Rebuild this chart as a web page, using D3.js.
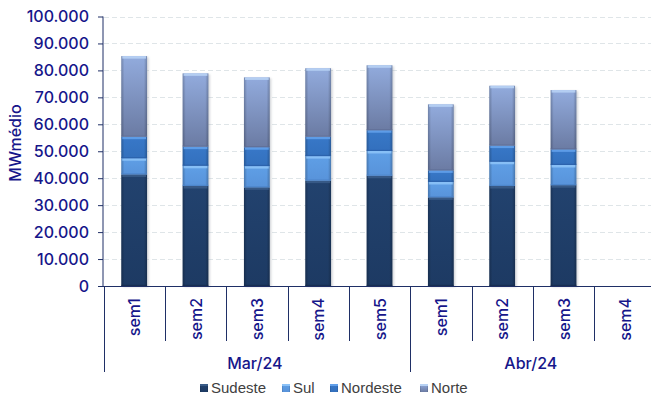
<!DOCTYPE html>
<html>
<head>
<meta charset="utf-8">
<script src="https://cdn.jsdelivr.net/npm/d3@7"></script>
<style>
  html, body { margin: 0; padding: 0; background: #fff; }
  svg { display: block; }
</style>
</head>
<body>
<svg id="chart" width="651" height="401"></svg>
<script>
// Weekly average load by subsystem (MWmédio)
const months = ["Mar/24", "Abr/24"];
const weeks = [
  ["sem1", "sem2", "sem3", "sem4", "sem5"],
  ["sem1", "sem2", "sem3", "sem4"]
];
const seriesNames = ["Sudeste", "Sul", "Nordeste", "Norte"];
const sudeste  = [41400, 37100, 36600, 39100, 40900, 32900, 37100, 37400, null];
const sul      = [ 6000,  7500,  7900,  9100,  9200,  5700,  9000,  7500, null];
const nordeste = [ 8000,  7100,  7000,  7200,  7700,  4300,  6000,  5800, null];
const norte    = [29900, 27200, 25900, 25400, 24100, 24500, 22200, 22000, null];
const yTicks = [0, 10000, 20000, 30000, 40000, 50000, 60000, 70000, 80000, 90000, 100000];

const seriesValues = [sudeste, sul, nordeste, norte];
const navy = "#16168a";
const lineCol = "#1f2f66";

// flat category list: one slot per week, grouped by month
const cats = [];
weeks.forEach((ws, m) => ws.forEach(w => cats.push({ key: months[m] + "|" + w, week: w, month: months[m] })));
const rows = cats.map((c, i) => {
  const r = { key: c.key };
  seriesNames.forEach((s, k) => r[s] = seriesValues[k][i]);
  r.empty = seriesValues.every(v => v[i] == null);
  return r;
});

const svg = d3.select("#chart");
const x = d3.scaleBand().domain(cats.map(c => c.key)).range([103.5, 655.5]).paddingInner(0).paddingOuter(0);
const y = d3.scaleLinear().domain([0, 100000]).range([286, 16.5]);
const barW = x.bandwidth() * 0.42;

const defs = svg.append("defs");
// vertical body gradients per series, plus a shared edge shading and top highlights
const pal = {
  Sudeste:  { top: "#22426e", bot: "#1d3a63", hi: "#3a5c88", edge: "#152a4a" },
  Sul:      { top: "#5f9fe6", bot: "#5893da", hi: "#8cc2f7", edge: "#4a82c6" },
  Nordeste: { top: "#3878c8", bot: "#3370bd", hi: "#62a0ea", edge: "#2a5ea6" },
  Norte:    { top: "#92abdd", bot: "#6b7ba3", hi: "#b8d2f4", edge: "#5f6e96" }
};
seriesNames.forEach(s => {
  const g = defs.append("linearGradient").attr("id", "v-" + s).attr("x1", 0).attr("x2", 0).attr("y1", 0).attr("y2", 1);
  g.append("stop").attr("offset", "0%").attr("stop-color", pal[s].top);
  g.append("stop").attr("offset", "100%").attr("stop-color", pal[s].bot);
});
const eg = defs.append("linearGradient").attr("id", "edges").attr("x1", 0).attr("x2", 1).attr("y1", 0).attr("y2", 0);
eg.append("stop").attr("offset", "0%").attr("stop-color", "#000").attr("stop-opacity", 0.22);
eg.append("stop").attr("offset", "12%").attr("stop-color", "#000").attr("stop-opacity", 0);
eg.append("stop").attr("offset", "88%").attr("stop-color", "#000").attr("stop-opacity", 0);
eg.append("stop").attr("offset", "100%").attr("stop-color", "#000").attr("stop-opacity", 0.22);
const shadowF = defs.append("filter").attr("id", "soft").attr("x", "-20%").attr("y", "-5%").attr("width", "140%").attr("height", "110%");
shadowF.append("feGaussianBlur").attr("stdDeviation", 1.2);

// gridlines
svg.append("g").selectAll("line").data(yTicks.filter(t => t > 0)).join("line")
  .attr("x1", 104).attr("x2", 651)
  .attr("y1", d => Math.round(y(d)) + 0.5).attr("y2", d => Math.round(y(d)) + 0.5)
  .attr("stroke", "#dfe5e8").attr("stroke-width", 1).attr("stroke-dasharray", "5,3");

// stacked bars
const stack = d3.stack().keys(seriesNames).value((d, k) => d[k] || 0);
const layers = stack(rows);
const barsG = svg.append("g");
const totalOf = d => d3.sum(seriesNames, s => d[s] || 0);

// soft shadow behind each full bar
barsG.selectAll("rect.shadow").data(rows.filter(r => !r.empty)).join("rect")
  .attr("class", "shadow")
  .attr("x", d => x(d.key) + (x.bandwidth() - barW) / 2 + 1.5)
  .attr("y", d => y(totalOf(d)) + 1)
  .attr("width", barW)
  .attr("height", d => y(0) - y(totalOf(d)))
  .attr("fill", "#9aa0a8").attr("opacity", 0.45).attr("filter", "url(#soft)");

layers.forEach(layer => {
  const s = layer.key;
  const segs = layer.map((d, i) => ({ y0: d[0], y1: d[1], key: rows[i].key, empty: rows[i].empty })).filter(d => !d.empty && d.y1 > d.y0);
  const g = barsG.append("g");
  const bx = d => x(d.key) + (x.bandwidth() - barW) / 2;
  g.selectAll("rect.body").data(segs).join("rect")
    .attr("x", bx).attr("y", d => y(d.y1)).attr("width", barW)
    .attr("height", d => y(d.y0) - y(d.y1))
    .attr("fill", "url(#v-" + s + ")");
  g.selectAll("rect.edge").data(segs).join("rect")
    .attr("x", bx).attr("y", d => y(d.y1)).attr("width", barW)
    .attr("height", d => y(d.y0) - y(d.y1))
    .attr("fill", "url(#edges)");
  // bevel highlight along the top of each segment
  g.selectAll("rect.hi").data(segs).join("rect")
    .attr("x", d => bx(d) + 1).attr("y", d => y(d.y1)).attr("width", barW - 2)
    .attr("height", 2.5)
    .attr("fill", pal[s].hi).attr("opacity", 0.9);
  // thin dark line at the bottom of each segment
  g.selectAll("rect.lo").data(segs).join("rect")
    .attr("x", bx).attr("y", d => y(d.y0) - 1.2).attr("width", barW)
    .attr("height", 1.2)
    .attr("fill", pal[s].edge).attr("opacity", 0.7);
});

// y axis
const yAxis = d3.axisLeft(y).tickValues(yTicks).tickSize(5).tickPadding(9)
  .tickFormat(d => d === 0 ? "0" : d3.format(",")(d).replace(/,/g, "."));
const ya = svg.append("g").attr("transform", "translate(103,0)").call(yAxis);
ya.select(".domain").attr("stroke", lineCol).attr("d", "M0,16.5V286");
ya.selectAll(".tick line").attr("stroke", lineCol);
ya.selectAll(".tick text").attr("fill", navy).attr("font-family", "Inter, sans-serif")
  .attr("font-size", 16).attr("font-weight", 500);

// y axis title
svg.append("text").attr("transform", "translate(21,143) rotate(-90)")
  .attr("text-anchor", "middle").attr("fill", navy)
  .attr("font-family", "Inter, sans-serif").attr("font-size", 16).attr("font-weight", 500)
  .text("MWmédio");

// x axis: baseline, week separators, month separators
const xa = svg.append("g");
xa.append("line").attr("x1", 103).attr("x2", 651).attr("y1", 286.5).attr("y2", 286.5).attr("stroke", lineCol);
const monthStarts = [];
let idx = 0;
weeks.forEach(ws => { monthStarts.push(idx); idx += ws.length; });
const bounds = d3.range(cats.length + 1).map(i => i < cats.length ? x(cats[i].key) : x.range()[1]);
bounds.forEach((bxv, i) => {
  const isMonth = monthStarts.includes(i) || i === cats.length;
  xa.append("line").attr("x1", Math.round(bxv) + 0.5).attr("x2", Math.round(bxv) + 0.5)
    .attr("y1", 286).attr("y2", isMonth ? 372 : 341)
    .attr("stroke", lineCol).attr("stroke-width", 1);
});
// week labels (rotated)
xa.selectAll("text.week").data(cats).join("text")
  .attr("class", "week")
  .attr("transform", d => `translate(${x(d.key) + x.bandwidth() / 2 + 6},298) rotate(-90)`)
  .attr("text-anchor", "end").attr("fill", navy)
  .attr("font-family", "Inter, sans-serif").attr("font-size", 16).attr("font-weight", 500)
  .text(d => d.week);
// month labels
months.forEach((m, k) => {
  const first = cats[monthStarts[k]].key;
  const lastIdx = monthStarts[k] + weeks[k].length;
  const x0 = x(first), x1 = lastIdx < cats.length ? x(cats[lastIdx].key) : x.range()[1];
  xa.append("text").attr("x", (x0 + x1) / 2 - 2).attr("y", 369)
    .attr("text-anchor", "middle").attr("fill", navy)
    .attr("font-family", "Inter, sans-serif").attr("font-size", 16).attr("font-weight", 500)
    .text(m);
});

// legend
const legX = [200, 282, 330, 420];
const lg = svg.append("g");
seriesNames.forEach((s, k) => {
  lg.append("rect").attr("x", legX[k]).attr("y", 384).attr("width", 8).attr("height", 8)
    .attr("fill", "url(#v-" + s + ")");
  lg.append("rect").attr("x", legX[k]).attr("y", 384).attr("width", 8).attr("height", 8)
    .attr("fill", "url(#edges)");
  lg.append("rect").attr("x", legX[k]).attr("y", 384).attr("width", 8).attr("height", 2)
    .attr("fill", pal[s].hi);
  lg.append("text").attr("x", legX[k] + 11).attr("y", 392.5)
    .attr("fill", "#404040").attr("font-family", "'Liberation Sans', Arial, sans-serif")
    .attr("font-size", 15).text(s);
});
</script>
</body>
</html>
